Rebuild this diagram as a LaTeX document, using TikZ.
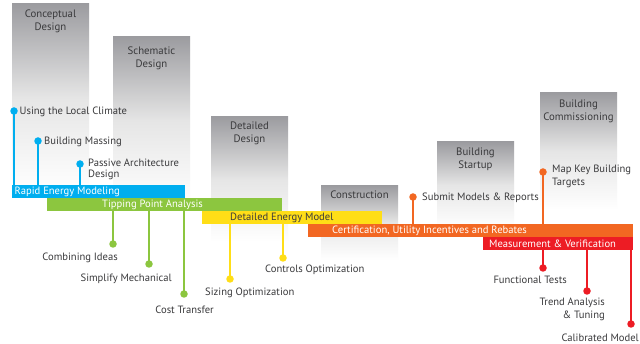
\documentclass[tikz,border=0pt]{standalone}
\usepackage{fontspec}
\setmainfont{PT Sans}
\definecolor{cblue}{HTML}{00AEEF}
\definecolor{cgreen}{HTML}{8CC63F}
\definecolor{cyellow}{HTML}{FFDE17}
\definecolor{corange}{HTML}{F26722}
\definecolor{cred}{HTML}{ED1C24}
\definecolor{ctext}{HTML}{3A3A3C}
\definecolor{cgray}{HTML}{9C9CA0}
\tikzset{
  phtext/.style={text=ctext, font=\fontsize{10.8}{13}\selectfont, align=center, anchor=north, inner sep=0pt},
  bar/.style={anchor=north west, inner sep=0pt, minimum height=13pt, draw=none},
  bartext/.style={font=\fontsize{10.6}{11}\selectfont, anchor=west, inner sep=0pt},
  dot/.style={circle, inner sep=0pt, minimum size=7.5pt},
  stem/.style={line width=2.6pt},
  lbl/.style={text=ctext, font=\fontsize{10.6}{13}\selectfont, inner sep=0pt},
  phasebox/.style={top color=cgray, bottom color=white, middle color=gray!20},
}
\begin{document}
\begin{tikzpicture}[x=1pt,y=-1pt]
\useasboundingbox (0,0) rectangle (640,344);
\fill[white] (0,0) rectangle (640,344);
% phase boxes
\shade[phasebox] (12,4) rectangle (89,192);
\shade[phasebox] (113,37) rectangle (190,205);
\shade[phasebox] (211,117) rectangle (288,242);
\shade[phasebox] (321,186) rectangle (398,260);
\shade[phasebox] (437,142) rectangle (514,228);
\shade[phasebox] (540,93) rectangle (617,210);
\node[phtext] (pc) at (50.5,10) {Conceptual\\Design};
\node[phtext] (ps) at (151.5,47) {Schematic\\Design};
\node[phtext] (pd) at (249.5,122) {Detailed\\Design};
\node[phtext] (pk) at (359.5,191) {Construction};
\node[phtext] (pb) at (475.5,148) {Building\\Startup};
\node[phtext] (pm) at (578.5,100) {Building\\Commissioning};
% bars
\node[bar, fill=cblue, minimum width=173pt] (rem) at (12,185) {};
\node[bar, fill=cgreen, minimum width=235pt] (tpa) at (47,198) {};
\node[bar, fill=cyellow, minimum width=180pt] (dem) at (202,211) {};
\node[bar, fill=corange, minimum width=325pt] (cui) at (308,224) {};
\node[bar, fill=cred, minimum width=150pt] (mv) at (483,237) {};
\node[bartext, text=white] (t1) at (14.5,191.5) {Rapid Energy Modeling};
\node[bartext, text=white] (t2) at (102,204.5) {Tipping Point Analysis};
\node[bartext, text=ctext] (t3) at (230,217.5) {Detailed Energy Model};
\node[bartext, text=white] (t4) at (332,230.5) {Certification, Utility Incentives and Rebates};
\node[bartext, text=white] (t5) at (489,243.5) {Measurement \& Verification};
% blue stems
\node[dot, fill=cblue] (b1) at (14,111) {};
\node[dot, fill=cblue] (b2) at (38,141) {};
\node[dot, fill=cblue] (b3) at (80,164) {};
\draw[stem, cblue] (b1.center) -- (b1.center |- rem.north);
\draw[stem, cblue] (b2.center) -- (b2.center |- rem.north);
\draw[stem, cblue] (b3.center) -- (b3.center |- rem.north);
\node[lbl, anchor=west] (l1) at (19.5,111.5) {Using the Local Climate};
\node[lbl, anchor=west] (l2) at (44,141.5) {Building Massing};
\node[lbl, anchor=north west, align=left, font=\fontsize{10.6}{11}\selectfont] (l3) at (88,158.5) {Passive Architecture\\Design};
% green stems
\node[dot, fill=cgreen] (g1) at (113,244) {};
\node[dot, fill=cgreen] (g2) at (149,264) {};
\node[dot, fill=cgreen] (g3) at (184,294) {};
\draw[stem, cgreen] (g1.center) -- (g1.center |- tpa.south);
\draw[stem, cgreen] (g2.center) -- (g2.center |- tpa.south);
\draw[stem, cgreen] (g3.center) -- (g3.center |- tpa.south);
\node[lbl, anchor=east] (l4) at (118,257.5) {Combining Ideas};
\node[lbl, anchor=east] (l5) at (172,279) {Simplify Mechanical};
\node[lbl, anchor=east] (l6) at (214,310) {Cost Transfer};
% yellow stems
\node[dot, fill=cyellow] (y1) at (230,279) {};
\node[dot, fill=cyellow] (y2) at (283,258) {};
\draw[stem, cyellow] (y1.center) -- (y1.center |- dem.south);
\draw[stem, cyellow] (y2.center) -- (y2.center |- dem.south);
\node[lbl, anchor=west] (l7) at (205,293) {Sizing Optimization};
\node[lbl, anchor=west] (l8) at (265,270) {Controls Optimization};
% orange stems
\node[dot, fill=corange] (o1) at (413,197) {};
\node[dot, fill=corange] (o2) at (543,172) {};
\draw[stem, corange] (o1.center) -- (o1.center |- cui.north);
\draw[stem, corange] (o2.center) -- (o2.center |- cui.north);
\node[lbl, anchor=west] (l9) at (422,198) {Submit Models \& Reports};
\node[lbl, anchor=north west, align=left] (l10) at (552,164.5) {Map Key Building\\Targets};
% red stems
\node[dot, fill=cred] (r1) at (543,268) {};
\node[dot, fill=cred] (r2) at (587,291) {};
\node[dot, fill=cred] (r3) at (631,324) {};
\draw[stem, cred] (r1.center) -- (r1.center |- mv.south);
\draw[stem, cred] (r2.center) -- (r2.center |- mv.south);
\draw[stem, cred] (r3.center) -- (r3.center |- mv.south);
\node[lbl, anchor=east] (l11) at (567,280) {Functional Tests};
\node[lbl, anchor=north east, align=right] (l12) at (605,298) {Trend Analysis\\\& Tuning};
\node[lbl, anchor=east] (l13) at (639,337.5) {Calibrated Model};
\end{tikzpicture}
\end{document}
